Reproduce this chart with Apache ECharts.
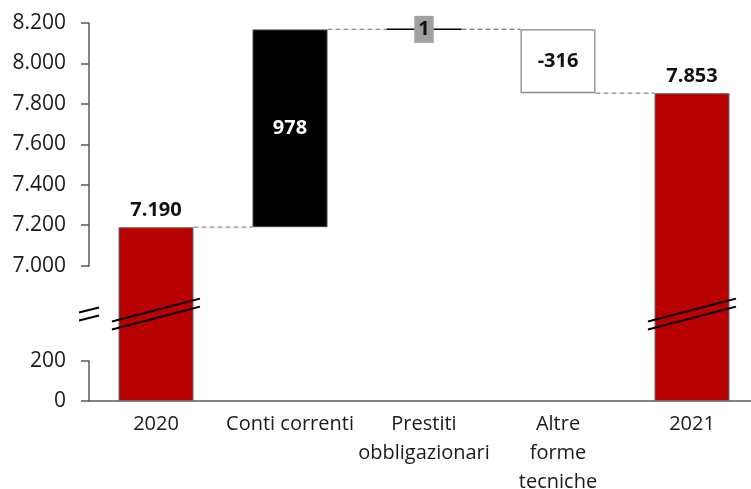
<!DOCTYPE html>
<html>
<head>
<meta charset="utf-8">
<script src="https://cdn.jsdelivr.net/npm/echarts@6/dist/echarts.min.js"></script>
<style>
  html, body { margin: 0; padding: 0; background: #fff; }
  #chart { width: 751px; height: 489px; }
</style>
</head>
<body>
<div id="chart"></div>
<script>
// categorie e valori (migliaia)
const categories = ['2020', 'Conti correnti', 'Prestiti\nobbligazionari', 'Altre\nforme\ntecniche', '2021'];
const values = [7190, 978, 1, -316, 7853];
const isTotal = [true, false, false, false, true];
const labels = ['7.190', '978', '1', '-316', '7.853'];

function fmt(v) {
    return String(v).replace(/\B(?=(\d{3})+(?!\d))/g, '.');
}

// calcolo base / altezza del waterfall
let running = 0;
const base = [];
const height = [];
const levels = [];
values.forEach((v, i) => {
    if (isTotal[i]) {
        base.push(0);
        height.push(v);
        running = v;
    } else if (v >= 0) {
        base.push(running);
        height.push(v);
        running += v;
    } else {
        base.push(running + v);
        height.push(-v);
        running += v;
    }
    levels.push(running);
});

const BAR_W = 75;

const styles = [
    { color: '#b90000', borderColor: '#6b6b6b', borderWidth: 1 },
    { color: '#000000', borderColor: '#444', borderWidth: 1 },
    { color: '#000000', borderColor: '#000', borderWidth: 1.5 },
    { color: '#ffffff', borderColor: '#8a8a8a', borderWidth: 1.3 },
    { color: '#b90000', borderColor: '#6b6b6b', borderWidth: 1 }
];
const labelOpts = [
    { position: 'top', distance: 7, color: '#111' },
    { position: 'inside', color: '#fff' },
    { position: 'inside', color: '#111', backgroundColor: '#a0a0a0', padding: [4, 4, 3, 4] },
    { position: 'inside', color: '#111' },
    { position: 'top', distance: 7, color: '#111' }
];

// linee tratteggiate di collegamento (da bordo a bordo)
const connectorData = levels.slice(0, -1).map((lv, i) => [i, lv]);

const chart = echarts.init(document.getElementById('chart'));
const font = "'Open Sans', 'Noto Sans', sans-serif";

chart.setOption({
    animation: false,
    grid: { left: 89, right: -8, top: 23, bottom: 88, outerBoundsMode: 'none' },
    xAxis: {
        type: 'category',
        data: categories,
        axisLine: { lineStyle: { color: '#5a5a5a', width: 1.5 } },
        axisTick: { show: false },
        axisLabel: {
            interval: 0,
            margin: 9,
            color: '#1a1a1a',
            fontFamily: font,
            fontSize: 20,
            lineHeight: 29
        }
    },
    yAxis: {
        type: 'value',
        min: 0,
        max: 8200,
        interval: 200,
        breaks: [{ start: 200, end: 7000, gap: 470 }],
        breakArea: { show: false },
        splitLine: { show: false },
        axisLine: { show: true, lineStyle: { color: '#5a5a5a', width: 1.5 } },
        axisTick: { show: true, length: 8, lineStyle: { color: '#5a5a5a', width: 1.5 } },
        axisLabel: {
            margin: 23,
            color: '#1a1a1a',
            fontFamily: font,
            fontSize: 21,
            formatter: v => fmt(v)
        }
    },
    series: [
        {
            type: 'bar',
            stack: 'wf',
            barWidth: BAR_W,
            silent: true,
            itemStyle: { color: 'transparent' },
            data: base
        },
        {
            type: 'bar',
            stack: 'wf',
            barWidth: BAR_W,
            z: 3,
            data: height.map((h, i) => ({
                value: h,
                itemStyle: styles[i],
                label: Object.assign({
                    show: true,
                    fontFamily: font,
                    fontSize: 20,
                    fontWeight: 'bold',
                    formatter: () => labels[i]
                }, labelOpts[i])
            }))
        },
        {
            type: 'custom',
            silent: true,
            z: 1,
            data: connectorData,
            renderItem: (params, api) => {
                const i = api.value(0);
                const lv = api.value(1);
                const p1 = api.coord([i, lv]);
                const p2 = api.coord([i + 1, lv]);
                return {
                    type: 'line',
                    shape: { x1: p1[0] + BAR_W / 2, y1: p1[1], x2: p2[0] - BAR_W / 2, y2: p2[1] },
                    style: { stroke: '#8c8c8c', lineWidth: 1.3, lineDash: [5, 3] }
                };
            }
        }
    ]
});

// segni di interruzione dell'asse
const yMid = (chart.convertToPixel({ yAxisIndex: 0 }, 200) + chart.convertToPixel({ yAxisIndex: 0 }, 7000)) / 2 + 1;
const axisX = chart.convertToPixel({ xAxisIndex: 0 }, categories[0]) - 67;
const marks = [];
function slash(cx, half, slope) {
    [-4, 4].forEach(off => {
        marks.push({
            type: 'line',
            z: 100,
            shape: { x1: cx - half, y1: yMid + off + half * slope, x2: cx + half, y2: yMid + off - half * slope },
            style: { stroke: '#000', lineWidth: 2 }
        });
    });
}
slash(axisX, 10, 0.25);
[0, values.length - 1].forEach(i => {
    slash(chart.convertToPixel({ xAxisIndex: 0 }, categories[i]), 44, 0.26);
});
chart.setOption({ graphic: { elements: marks } });
</script>
</body>
</html>
